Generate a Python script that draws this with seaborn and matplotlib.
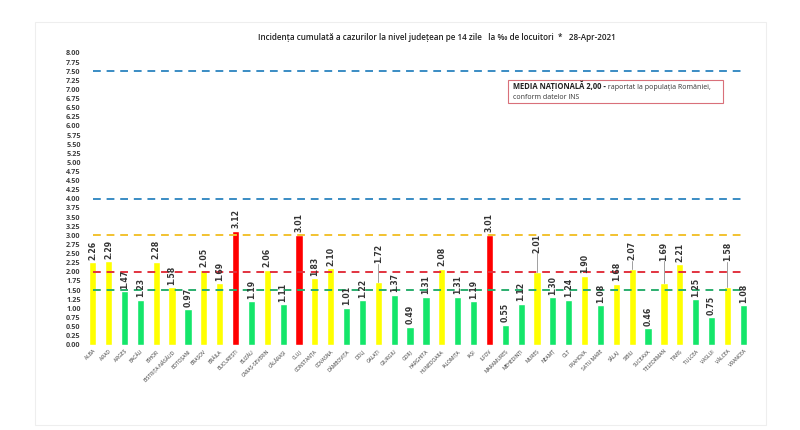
import matplotlib
matplotlib.use("Agg")
import matplotlib.pyplot as plt
import seaborn as sns
from matplotlib.patches import Rectangle


judete = ['ALBA', 'ARAD', 'ARGEȘ', 'BACĂU', 'BIHOR', 'BISTRIȚA-NĂSĂUD', 'BOTOȘANI', 'BRAȘOV',
          'BRĂILA', 'BUCUREȘTI', 'BUZĂU', 'CARAȘ-SEVERIN', 'CĂLĂRAȘI', 'CLUJ', 'CONSTANȚA',
          'COVASNA', 'DÂMBOVIȚA', 'DOLJ', 'GALAȚI', 'GIURGIU', 'GORJ', 'HARGHITA', 'HUNEDOARA',
          'IALOMIȚA', 'IAȘI', 'ILFOV', 'MARAMUREȘ', 'MEHEDINȚI', 'MUREȘ', 'NEAMȚ', 'OLT',
          'PRAHOVA', 'SATU MARE', 'SĂLAJ', 'SIBIU', 'SUCEAVA', 'TELEORMAN', 'TIMIȘ', 'TULCEA',
          'VASLUI', 'VÂLCEA', 'VRANCEA']
incidenta = [2.26, 2.29, 1.47, 1.23, 2.28, 1.58, 0.97, 2.05, 1.69, 3.12, 1.19, 2.06, 1.11,
             3.01, 1.83, 2.10, 1.01, 1.22, 1.72, 1.37, 0.49, 1.31, 2.08, 1.31, 1.19, 3.01,
             0.55, 1.12, 2.01, 1.30, 1.24, 1.90, 1.08, 1.68, 2.07, 0.46, 1.69, 2.21, 1.25,
             0.75, 1.58, 1.08]
praguri = [1.5, 2.0, 3.0, 4.0, 7.5]
culori_praguri = ['#2BAE6E', '#E2333F', '#F2C230', '#3A8CC4', '#3A8CC4']
media_nationala = 2.00


def culoare(v):
    if v < 1.5:
        return '#14E66A'
    if v <= 3.0:
        return '#FFFF00'
    return '#FF0000'


# etichete ridicate (cu linie de legatura), ca in graficul original
ridicate = {'GALAȚI': 0.45, 'MUREȘ': 0.45, 'SIBIU': 0.18, 'TELEORMAN': 0.55, 'VÂLCEA': 0.65}

sns.set_style('white')
plt.rcParams['font.family'] = ['Open Sans', 'DejaVu Sans']

fig = plt.figure(figsize=(8, 4.3), dpi=100)
ax = fig.add_axes([0.106, 0.198, 0.833, 0.679])

fig.patches.append(Rectangle((0.044, 0.012), 0.913, 0.937, transform=fig.transFigure,
                             fill=False, edgecolor='#EEEEEE', linewidth=0.8))

paleta = {j: culoare(v) for j, v in zip(judete, incidenta)}
sns.barplot(x=judete, y=incidenta, hue=judete, palette=paleta, legend=False,
            width=0.45, saturation=1, ax=ax)

for p, c in zip(praguri, culori_praguri):
    ax.hlines(p, 0, len(judete) - 1, colors=c, linestyles=(0, (4, 3)), linewidth=1.4, zorder=3)

for i, (j, v) in enumerate(zip(judete, incidenta)):
    dy = ridicate.get(j, 0)
    y = v + 0.07 + dy
    if dy:
        ax.plot([i, i], [v, y - 0.02], color='#A0A0A0', linewidth=0.7, zorder=4)
    ax.text(i, y, f'{v:.2f}', rotation=90, ha='center', va='bottom', fontsize=5.6,
            fontweight='bold', color='#333333', family='DejaVu Sans', zorder=5)

ax.set_xlim(-0.5, len(judete) - 0.5)
ax.set_ylim(0, 8)
ax.set_yticks([k * 0.25 for k in range(33)])
ax.set_yticklabels([f'{k * 0.25:.2f}' for k in range(33)], fontsize=5.2, color='#404040',
                   fontweight='bold')
ax.set_xticks(range(len(judete)))
ax.set_xticklabels(judete, rotation=45, ha='right', rotation_mode='anchor', fontsize=3.6,
                   color='#333333')
ax.tick_params(axis='both', length=0, pad=3)
for s in ax.spines.values():
    s.set_visible(False)
ax.axhline(0, color='#DDDDDD', linewidth=0.6, zorder=0)

fig.text(0.546, 0.912, 'Incidența cumulată a cazurilor la nivel județean pe 14 zile   la ‰ de locuitori  *   28-Apr-2021',
         ha='center', va='center', fontsize=5.9, fontweight='semibold', color='#222222')

# caseta cu media nationala
ax.add_patch(Rectangle((0.635, 0.829), 0.323, 0.079, transform=ax.transAxes, fill=True,
                       facecolor='white', edgecolor='#D9707A', linewidth=0.8, zorder=6))
t = ax.text(0.642, 0.877, f'MEDIA NAȚIONALĂ {media_nationala:.2f}'.replace('.', ',') + ' -',
            transform=ax.transAxes, fontsize=5.5, fontweight='bold', color='#222222',
            va='baseline', ha='left', zorder=7)
fig.canvas.draw()
bb = t.get_window_extent().transformed(ax.transAxes.inverted())
ax.text(bb.x1, 0.877, ' raportat la populația României,', transform=ax.transAxes,
        fontsize=5.0, color='#333333', va='baseline', ha='left', zorder=7)
ax.text(0.642, 0.843, 'conform datelor INS', transform=ax.transAxes, fontsize=5.0,
        color='#333333', va='baseline', ha='left', zorder=7)

fig.savefig('out.png', dpi=100)
